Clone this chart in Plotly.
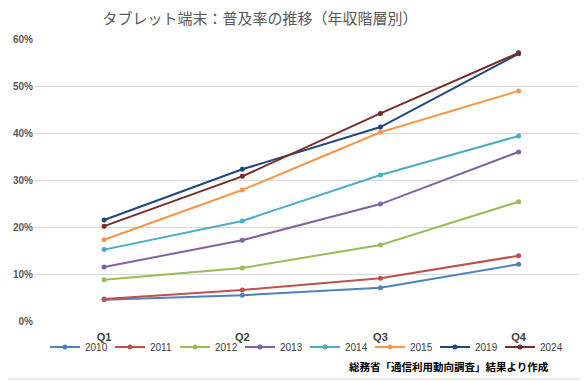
import plotly.graph_objects as go

quarters = ["Q1", "Q2", "Q3", "Q4"]
years = ["2010", "2011", "2012", "2013", "2014", "2015", "2019", "2024"]
values = {
    "2010": [4.5, 5.5, 7.1, 12.1],
    "2011": [4.7, 6.6, 9.1, 13.9],
    "2012": [8.8, 11.3, 16.2, 25.4],
    "2013": [11.5, 17.2, 24.9, 36.0],
    "2014": [15.2, 21.3, 31.1, 39.4],
    "2015": [17.3, 27.9, 40.2, 49.0],
    "2019": [21.5, 32.3, 41.3, 56.9],
    "2024": [20.2, 30.8, 44.2, 57.1],
}
colors = {
    "2010": "#4F81BD", "2011": "#C0504D", "2012": "#9BBB59", "2013": "#8064A2",
    "2014": "#4BACC6", "2015": "#F79646", "2019": "#1F497D", "2024": "#772C2A",
}
y_ticks = [0, 10, 20, 30, 40, 50, 60]
y_tick_labels = ["0%", "10%", "20%", "30%", "40%", "50%", "60%"]
title_text = "タブレット端末：普及率の推移（年収階層別）"
source_text = "総務省「通信利用動向調査」結果より作成"

# page body has an 8px margin: work in figure pixels = reference pixels - 8
OFF = 8
W, H = 588 - OFF, 381 - OFF
L, R, T, B = 35 - OFF, 10, 39 - OFF, 381 - 321
pw, ph = W - L - R, H - T - B


def px_x(p):
    return (p - OFF - L) / pw


def px_y(p):
    return (H - B - (p - OFF)) / ph


fig = go.Figure()
for y in years:
    fig.add_trace(go.Scatter(
        x=quarters, y=values[y], name=y, mode="lines+markers",
        line=dict(color=colors[y], width=2),
        marker=dict(color=colors[y], size=5),
    ))

font_family = "Noto Sans CJK JP, Noto Sans, sans-serif"
num_font = "Liberation Sans"
fig.update_layout(
    width=W, height=H,
    margin=dict(l=L, r=R, t=T, b=B, autoexpand=False),
    paper_bgcolor="white", plot_bgcolor="white",
    font=dict(family=font_family, color="#595959"),
    title=dict(text=title_text, xref="container", yref="container",
               x=(260 - OFF) / W, xanchor="center", y=1 - (19 - OFF) / H, yanchor="middle",
               font=dict(size=15, color="#595959", family=font_family)),
    showlegend=True,
    legend=dict(orientation="h", xref="container", yref="container",
                x=(305 - OFF) / W, xanchor="center", y=1 - (347 - OFF) / H, yanchor="middle",
                font=dict(size=10, color="#404040", family=num_font),
                itemwidth=30, entrywidth=20, entrywidthmode="pixels",
                tracegroupgap=0, bgcolor="rgba(0,0,0,0)"),
    xaxis=dict(type="category", range=[-0.5, 3.43], showgrid=False, zeroline=False,
               showline=False, ticks="outside", ticklen=6, tickcolor="rgba(0,0,0,0)",
               tickvals=quarters, ticktext=["<b>" + q + "</b>" for q in quarters],
               automargin=False,
               tickfont=dict(size=11, color="#404040", family=num_font), fixedrange=True),
    yaxis=dict(range=[0, 60.05], tickvals=y_ticks,
               ticktext=["<b>" + t + "</b>" for t in y_tick_labels],
               showgrid=True, gridcolor="#D9D9D9", gridwidth=1, zeroline=False,
               showline=False, ticks="", automargin=False, ticklabelstandoff=1,
               tickfont=dict(size=10, color="#595959", family=num_font),
               fixedrange=True),
)

# source note
fig.add_annotation(text="<b>" + source_text + "</b>", xref="paper", yref="paper",
                   x=px_x(551), y=px_y(366), xanchor="right", yanchor="middle",
                   showarrow=False, font=dict(size=10.5, color="#000000", family=font_family))

# chart border (right and bottom edges visible in the reference)
fig.add_shape(type="line", xref="paper", yref="paper",
              x0=px_x(586), x1=px_x(586), y0=px_y(379), y1=px_y(8),
              line=dict(color="#D9D9D9", width=1))
fig.add_shape(type="line", xref="paper", yref="paper",
              x0=px_x(8), x1=px_x(586), y0=px_y(379), y1=px_y(379),
              line=dict(color="#D9D9D9", width=1))

fig.write_html("out.html")
